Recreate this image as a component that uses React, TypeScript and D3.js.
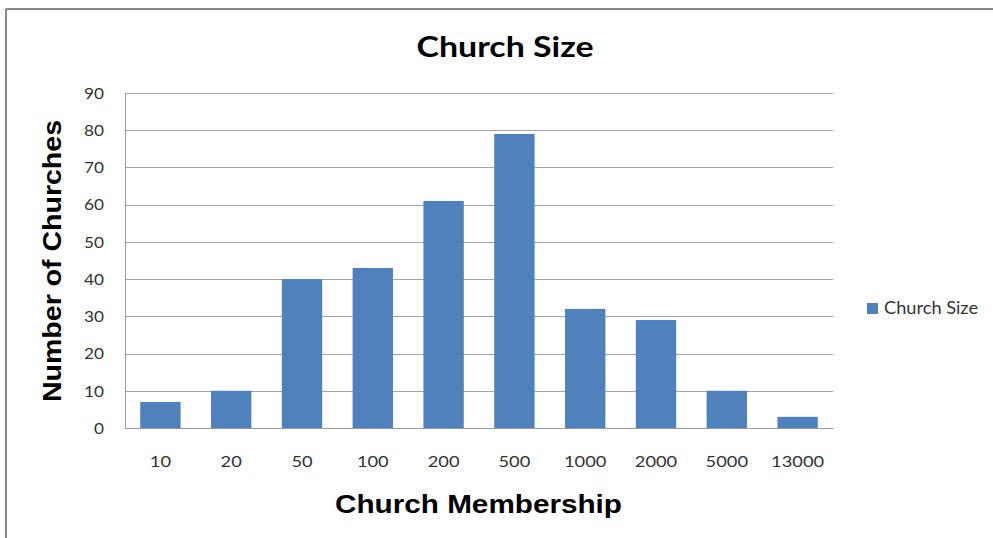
import React from "react";
import * as d3 from "d3";

const categories: string[] = ["10", "20", "50", "100", "200", "500", "1000", "2000", "5000", "13000"];
const churchCounts: number[] = [7, 10, 40, 43, 61, 79, 32, 29, 10, 3];
const yTicks: number[] = [0, 10, 20, 30, 40, 50, 60, 70, 80, 90];

const chartTitle = "Church Size";
const xTitle = "Church Membership";
const yTitle = "Number of Churches";
const seriesName = "Church Size";

const W = 993;
const H = 538;
const plot = { left: 125, right: 833, top: 93, bottom: 428 };
const barColor = "#4F81BD";
const gridColor = "#a3a3a3";
const tickFont = "Lato, 'Open Sans', sans-serif";
const boldFont = "'Liberation Sans', Arial, sans-serif";
// labels are drawn slightly wide; each digit gets this much room
const digitWidth = 10.6;

export default function App() {
  const x = d3
    .scaleBand<string>()
    .domain(categories)
    .range([plot.left, plot.right])
    .paddingInner(0.43)
    .paddingOuter(0.215);

  const y = d3.scaleLinear().domain([0, 90]).range([plot.bottom, plot.top]);

  return (
    <svg
      width={W}
      height={H}
      style={{ position: "absolute", left: 0, top: 0, background: "#fff" }}
    >
      <rect x={0} y={0} width={W} height={H} fill="#fff" />
      {/* chart frame */}
      <line x1={6} y1={9} x2={W} y2={9} stroke="#888" strokeWidth={2} />
      <line x1={6} y1={9} x2={6} y2={H} stroke="#888" strokeWidth={2} />

      {/* title */}
      <text
        x={505}
        y={57}
        textAnchor="middle"
        fontFamily={tickFont}
        fontWeight="bold"
        fontSize={29}
        fill="#000"
        textLength={177}
        lengthAdjust="spacingAndGlyphs"
      >
        {chartTitle}
      </text>

      {/* gridlines */}
      {yTicks
        .filter((t) => t > 0)
        .map((t) => (
          <line
            key={"g" + t}
            x1={plot.left}
            x2={plot.right}
            y1={Math.round(y(t)) + 0.5}
            y2={Math.round(y(t)) + 0.5}
            stroke={gridColor}
            strokeWidth={1}
          />
        ))}

      {/* bars */}
      {categories.map((c, i) => (
        <rect
          key={"b" + c}
          x={x(c)!}
          y={y(churchCounts[i])}
          width={x.bandwidth()}
          height={y(0) - y(churchCounts[i])}
          fill={barColor}
        />
      ))}

      {/* axes */}
      <line
        x1={plot.left + 0.5}
        x2={plot.left + 0.5}
        y1={plot.top}
        y2={plot.bottom}
        stroke="#999"
        strokeWidth={1}
      />
      <line
        x1={plot.left}
        x2={plot.right}
        y1={plot.bottom + 0.5}
        y2={plot.bottom + 0.5}
        stroke="#999"
        strokeWidth={1}
      />

      {/* y tick labels */}
      {yTicks.map((t) => (
        <text
          key={"yt" + t}
          x={104}
          y={y(t)}
          dy="0.36em"
          textAnchor="end"
          fontFamily={tickFont}
          fontSize={16}
          fill="#333"
          textLength={String(t).length * 10}
          lengthAdjust="spacingAndGlyphs"
        >
          {t}
        </text>
      ))}

      {/* x tick labels */}
      {categories.map((c) => (
        <text
          key={"xt" + c}
          x={x(c)! + x.bandwidth() / 2}
          y={467}
          textAnchor="middle"
          fontFamily={tickFont}
          fontSize={16}
          fill="#333"
          textLength={c.length * digitWidth}
          lengthAdjust="spacingAndGlyphs"
        >
          {c}
        </text>
      ))}

      {/* axis titles */}
      <text
        x={478.5}
        y={513}
        textAnchor="middle"
        fontFamily={boldFont}
        fontWeight="bold"
        fontSize={25}
        fill="#000"
        textLength={287}
        lengthAdjust="spacingAndGlyphs"
      >
        {xTitle}
      </text>
      <text
        transform="translate(61,261) rotate(-90)"
        textAnchor="middle"
        fontFamily={boldFont}
        fontWeight="bold"
        fontSize={26}
        fill="#000"
        textLength={282}
        lengthAdjust="spacingAndGlyphs"
      >
        {yTitle}
      </text>

      {/* legend */}
      <rect x={867} y={303} width={11} height={11} fill={barColor} />
      <text
        x={884}
        y={314}
        fontFamily={tickFont}
        fontSize={17}
        fill="#333"
        textLength={94}
        lengthAdjust="spacingAndGlyphs"
      >
        {seriesName}
      </text>
    </svg>
  );
}
